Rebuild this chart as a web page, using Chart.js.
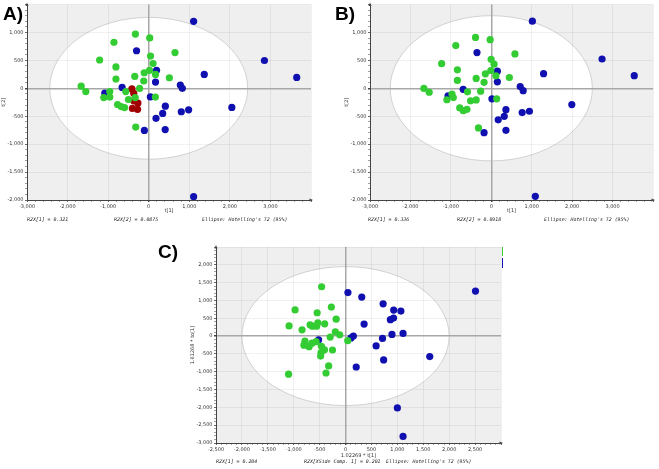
<!DOCTYPE html>
<html>
<head>
<meta charset="utf-8">
<script src="https://cdn.jsdelivr.net/npm/chart.js@4.4.1/dist/chart.umd.min.js"></script>
<style>
  body { margin: 0; background: #fff; }
  #wrap { position: relative; width: 659px; height: 469px; overflow: hidden; }
  canvas { position: absolute; }
  .lbl { position: absolute; font: bold 19px "Liberation Sans", Arial, sans-serif; color: #000; line-height: 20px; }
  .foot { position: absolute; font: italic 4.9px "DejaVu Sans Mono", monospace; color: #222; white-space: nowrap; line-height: 6px; }
  .leg { position: absolute; width: 1px; }
</style>
</head>
<body>
<div id="wrap">
  <canvas id="cA" width="330" height="230" style="left:0;top:0"></canvas>
  <canvas id="cB" width="329" height="230" style="left:330px;top:0"></canvas>
  <canvas id="cC" width="360" height="239" style="left:160px;top:230px"></canvas>

  <div class="lbl" style="left:3px;top:4px">A)</div>
  <div class="lbl" style="left:335px;top:4px">B)</div>
  <div class="lbl" style="left:158px;top:242px">C)</div>

  <div class="foot" style="left:27px;top:216px">R2X[1] = 0.321</div>
  <div class="foot" style="left:114px;top:216px">R2X[2] = 0.0875</div>
  <div class="foot" style="left:202px;top:216px">Ellipse: Hotelling's T2 (95%)</div>

  <div class="foot" style="left:368px;top:216px">R2X[1] = 0.336</div>
  <div class="foot" style="left:457px;top:216px">R2X[2] = 0.0918</div>
  <div class="foot" style="left:544px;top:216px">Ellipse: Hotelling's T2 (95%)</div>

  <div class="foot" style="left:216px;top:458px">R2X[1] = 0.204</div>
  <div class="foot" style="left:304px;top:458px">R2X[XSide Comp. 1] = 0.201</div>
  <div class="foot" style="left:386px;top:458px">Ellipse: Hotelling's T2 (95%)</div>

  <div class="leg" style="left:502px;top:247px;height:9px;background:#33cc33"></div>
  <div class="leg" style="left:502px;top:258px;height:10px;background:#1010b0"></div>
</div>
<script>
// scores
const aGreen = [[-328,970],[25,902],[-857,822],[648,639],[45,577],[107,444],[-1210,506],[-808,382],[20,322],[-111,278],[-344,213],[168,249],[509,189],[-808,166],[-123,130],[-1665,38],[-1550,-59],[-225,-3],[-960,-59],[-566,-59],[-1107,-166],[-960,-157],[-332,-166],[-500,-201],[164,-157],[-767,-290],[-680,-328],[-595,-346],[-320,-695]];
const aBlue = [[1107,1198],[2852,497],[3648,195],[1369,249],[2049,-343],[1107,-1941],[-300,672],[193,322],[168,112],[-656,15],[-1083,-86],[41,-154],[779,59],[828,0],[410,-320],[344,-450],[180,-538],[803,-420],[984,-385],[406,-740],[-107,-754]];
const aRed = [[-415,-12],[-369,-89],[-369,-225],[-266,-263],[-402,-361],[-275,-376]];

const bGreen = [[-390,910],[-28,870],[-878,764],[585,615],[-4,520],[69,431],[-1228,440],[-838,330],[-12,318],[-146,259],[-374,176],[114,223],[447,193],[-838,140],[-179,107],[-1667,-3],[-1536,-71],[-264,-51],[-972,-104],[-589,-63],[-1098,-205],[-939,-167],[-374,-208],[-512,-223],[134,-188],[-780,-351],[-691,-401],[-602,-375],[-317,-710]];
const bBlue = [[1016,1202],[2740,524],[3537,226],[1293,262],[1992,-292],[1089,-1935],[-354,639],[150,306],[150,116],[-695,-18],[-1069,-137],[16,-188],[715,30],[789,-42],[362,-383],[321,-502],[171,-564],[764,-435],[943,-411],[362,-752],[-179,-794]];

const cGreen = [[-462,1384],[-974,734],[-274,813],[-548,655],[-181,474],[-1090,284],[-839,177],[-684,316],[-639,279],[-558,279],[-535,372],[-403,344],[-197,120],[-113,37],[-297,-28],[42,-130],[-784,-144],[-803,-256],[-649,-200],[-568,-158],[-703,-297],[-465,-288],[-406,-385],[-252,-390],[-474,-465],[-480,-562],[-326,-836],[-377,-1036],[-1100,-1068]];
const cBlue = [[2508,1264],[46,1221],[313,1095],[725,906],[929,729],[1068,701],[926,506],[865,460],[358,337],[896,46],[1110,74],[151,0],[106,-51],[-520,-106],[713,-65],[590,-275],[1625,-576],[735,-669],[206,-868],[1000,-2017],[1110,-2816]];

// Hotelling T2 ellipse semi-axes (t1, t2)
const ellA = [2440, 1270];
const ellB = [2500, 1300];
const ellC = [2000, 1950];

const GREEN = "#33cc33";
const BLUE = "#1010b0";
const RED = "#a00000";
const FONT = "DejaVu Sans";

function fmt(v) {
  return Number(v).toLocaleString("en-US");
}

function pts(list) {
  return list.map((p) => ({ x: p[0], y: p[1] }));
}

const plotBg = {
  id: "plotBg",
  beforeDraw(chart, args, o) {
    const { ctx, chartArea: a, scales: { x, y } } = chart;
    ctx.save();
    ctx.fillStyle = "#efefef";
    ctx.fillRect(a.left, a.top, a.right - a.left, a.bottom - a.top);
    const cx = x.getPixelForValue(0);
    const cy = y.getPixelForValue(0);
    const rx = Math.abs(x.getPixelForValue(o.ell[0]) - cx);
    const ry = Math.abs(y.getPixelForValue(o.ell[1]) - cy);
    ctx.beginPath();
    ctx.ellipse(cx, cy, rx, ry, 0, 0, 2 * Math.PI);
    ctx.fillStyle = "#fff";
    ctx.fill();
    ctx.strokeStyle = "#c8c8c8";
    ctx.lineWidth = 0.8;
    ctx.stroke();
    ctx.restore();
  },
  afterDraw(chart) {
    const { ctx, chartArea: a } = chart;
    ctx.save();
    ctx.fillStyle = "#444";
    ctx.beginPath();
    ctx.moveTo(a.left, a.top - 2);
    ctx.lineTo(a.left - 1.5, a.top + 1.5);
    ctx.lineTo(a.left + 1.5, a.top + 1.5);
    ctx.fill();
    ctx.beginPath();
    ctx.moveTo(a.right + 2, a.bottom);
    ctx.lineTo(a.right - 1.5, a.bottom - 1.5);
    ctx.lineTo(a.right - 1.5, a.bottom + 1.5);
    ctx.fill();
    ctx.restore();
  },
};

function axis(min, max, step, major, size, title) {
  return {
    type: "linear",
    min: min,
    max: max,
    afterFit: (s) => {
      if (s.isHorizontal()) s.height = size; else s.width = size;
    },
    ticks: {
      stepSize: step,
      autoSkip: false,
      maxRotation: 0,
      padding: 1.5,
      color: "#333",
      font: { family: FONT, size: 5 },
      callback: (v) => (v % major === 0 && v !== max ? fmt(v) : ""),
    },
    grid: {
      color: (c) => {
        const v = c.tick.value;
        if (v === 0) return "#a8a8a8";
        return v % major === 0 ? "rgba(0,0,0,0.07)" : "rgba(0,0,0,0)";
      },
      lineWidth: (c) => (c.tick.value === 0 ? 1.5 : 0.8),
      tickColor: (c) => (c.tick.value % major === 0 ? "#444" : "#888"),
      tickLength: 2,
    },
    border: { color: "#444", width: 1 },
    title: {
      display: true,
      text: title,
      color: "#333",
      font: { family: FONT, size: 5 },
      padding: 0,
    },
  };
}

function makePanel(id, cfg) {
  const datasets = cfg.groups.map((g) => ({
    data: pts(g.data),
    backgroundColor: g.color,
    borderWidth: 0,
    pointRadius: 3.6,
    pointHoverRadius: 3.6,
  }));
  return new Chart(document.getElementById(id), {
    type: "scatter",
    data: { datasets },
    options: {
      responsive: false,
      animation: false,
      events: [],
      layout: { padding: cfg.pad },
      scales: {
        x: axis(cfg.x[0], cfg.x[1], cfg.x[2], cfg.x[3], cfg.xH, cfg.xTitle),
        y: axis(cfg.y[0], cfg.y[1], cfg.y[2], cfg.y[3], cfg.yW, cfg.yTitle),
      },
      plugins: {
        legend: { display: false },
        tooltip: { enabled: false },
        plotBg: { ell: cfg.ell },
      },
    },
    plugins: [plotBg],
  });
}

makePanel("cA", {
  groups: [{ data: aGreen, color: GREEN }, { data: aBlue, color: BLUE }, { data: aRed, color: RED }],
  x: [-3000, 4000, 200, 1000], y: [-2000, 1500, 100, 500],
  ell: ellA, xTitle: "t[1]", yTitle: "t[2]",
  pad: { left: 1, top: 3, right: 19, bottom: 16 }, yW: 26, xH: 14,
});

makePanel("cB", {
  groups: [{ data: bGreen, color: GREEN }, { data: bBlue, color: BLUE }],
  x: [-3000, 4000, 200, 1000], y: [-2000, 1500, 100, 500],
  ell: ellB, xTitle: "t[1]", yTitle: "t[2]",
  pad: { left: 14, top: 3, right: 6, bottom: 16 }, yW: 26, xH: 14,
});

makePanel("cC", {
  groups: [{ data: cGreen, color: GREEN }, { data: cBlue, color: BLUE }],
  x: [-2500, 3000, 100, 500], y: [-3000, 2500, 100, 500],
  ell: ellC, xTitle: "1.02269 * t[1]", yTitle: "1.61268 * to[1]",
  pad: { left: 30, top: 17, right: 19, bottom: 10 }, yW: 26, xH: 16,
});
</script>
</body>
</html>
